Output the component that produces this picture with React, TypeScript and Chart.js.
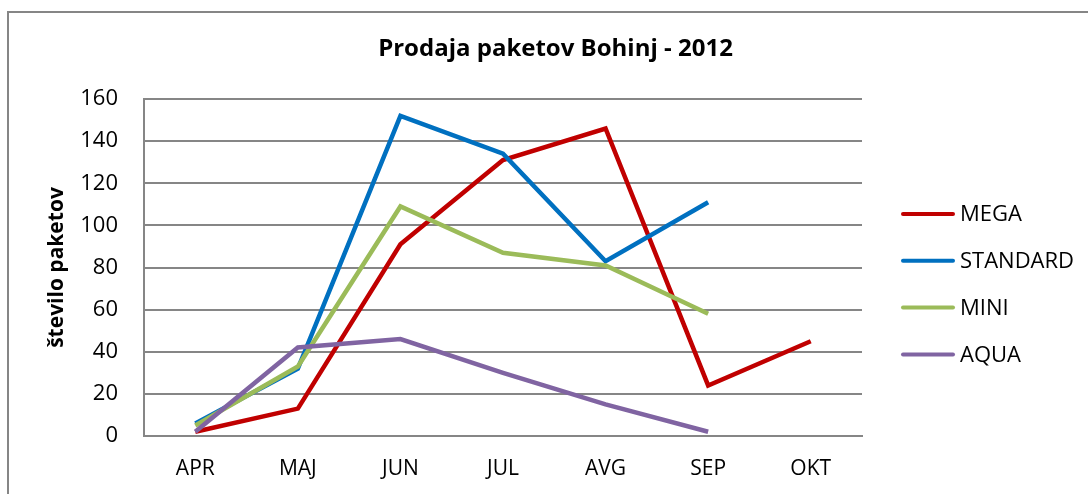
import React, { useEffect, useRef } from "react";
import { Chart, registerables } from "chart.js";

Chart.register(...registerables);

const categories = ["APR", "MAJ", "JUN", "JUL", "AVG", "SEP", "OKT"];
const megaValues = [2, 13, 91, 131, 146, 24, 45];
const standardValues = [6, 32, 152, 134, 83, 111, null];
const miniValues = [5, 33, 109, 87, 81, 58, null];
const aquaValues = [2, 42, 46, 30, 15, 2, null];
const seriesNames = ["MEGA", "STANDARD", "MINI", "AQUA"];
const seriesColors = ["#C00000", "#0070C0", "#9BBB59", "#8064A2"];
const chartTitle = "Prodaja paketov Bohinj - 2012";
const yAxisTitle = "število paketov";

const FONT = '"Open Sans", "Noto Sans", sans-serif';

const sideLegend = {
  id: "sideLegend",
  afterDraw(chart: any) {
    const ctx = chart.ctx;
    const top = 214;
    const step = 46.8;
    ctx.save();
    chart.data.datasets.forEach((ds: any, i: number) => {
      const y = top + i * step;
      ctx.strokeStyle = ds.borderColor;
      ctx.lineWidth = 4;
      ctx.lineCap = "round";
      ctx.beginPath();
      ctx.moveTo(903, y);
      ctx.lineTo(953, y);
      ctx.stroke();
      ctx.fillStyle = "#000";
      ctx.font = `22px ${FONT}`;
      ctx.textBaseline = "middle";
      ctx.textAlign = "left";
      ctx.fillText(ds.label, 960, y + 1);
    });
    ctx.restore();
  },
};

export default function App() {
  const ref = useRef<HTMLCanvasElement | null>(null);

  useEffect(() => {
    if (!ref.current) return;
    const valuesList = [megaValues, standardValues, miniValues, aquaValues];
    const chart = new Chart(ref.current, {
      type: "line",
      data: {
        labels: categories,
        datasets: seriesNames.map((name, i) => ({
          label: name,
          data: valuesList[i],
          borderColor: seriesColors[i],
          backgroundColor: seriesColors[i],
          borderWidth: 4.5,
          pointRadius: 0,
          pointHoverRadius: 0,
          tension: 0,
          fill: false,
          order: 4 - i,
        })),
      },
      options: {
        responsive: false,
        maintainAspectRatio: false,
        animation: false,
        layout: { padding: 0 },
        plugins: {
          legend: { display: false },
          tooltip: { enabled: false },
          title: {
            display: true,
            text: chartTitle,
            color: "#000",
            font: { family: FONT, size: 24, weight: "bold" },
            padding: { top: 34.6, bottom: 35.6 },
          },
        },
        scales: {
          x: {
            offset: true,
            grid: { display: false, drawTicks: false, offset: true },
            border: { display: true, color: "#868686", width: 2 },
            ticks: {
              color: "#000",
              font: { family: FONT, size: 21 },
              padding: 20,
            },
            afterFit: (s: any) => {
              s.height = 58;
            },
          },
          y: {
            min: 0,
            max: 160,
            grid: { color: "#868686", lineWidth: 2, drawTicks: false },
            border: { display: true, color: "#868686", width: 2 },
            ticks: {
              stepSize: 20,
              color: "#000",
              font: { family: FONT, size: 22 },
              padding: 26,
            },
            title: {
              display: true,
              text: yAxisTitle,
              color: "#000",
              font: { family: FONT, size: 21, weight: "bold" },
              padding: { top: 44.4, bottom: 0 },
            },
            afterFit: (s: any) => {
              s.width = 144;
            },
          },
          legendSpace: {
            type: "linear",
            position: "right",
            display: true,
            grid: { display: false, drawTicks: false },
            border: { display: false },
            ticks: { display: false },
            afterFit: (s: any) => {
              s.width = 249;
            },
          },
        },
      },
      plugins: [sideLegend],
    });
    return () => chart.destroy();
  }, []);

  return (
    <div
      style={{
        position: "fixed",
        left: 0,
        top: 0,
        width: 1088,
        height: 494,
        overflow: "hidden",
        background: "#fff",
      }}
    >
      <div
        style={{
          position: "absolute",
          left: 7,
          top: 11,
          width: 1200,
          height: 600,
          borderTop: "2px solid #868686",
          borderLeft: "2px solid #868686",
        }}
      />
      <canvas
        ref={ref}
        width={1111}
        height={494}
        style={{ position: "absolute", left: 0, top: 0, width: 1111, height: 494 }}
      />
    </div>
  );
}
